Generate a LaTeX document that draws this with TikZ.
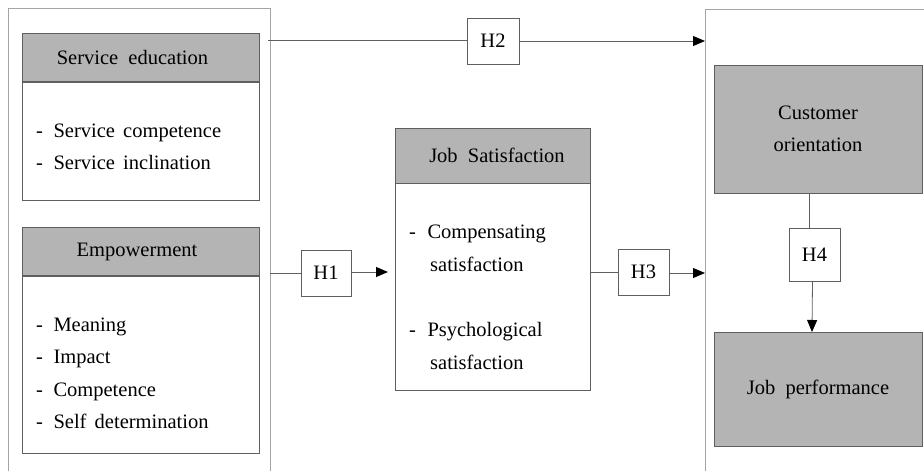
\documentclass[tikz,border=0pt]{standalone}
\usepackage{fontspec}
\setmainfont{Liberation Serif}[WordSpace=1.6]
\usetikzlibrary{arrows.meta}
\definecolor{boxgray}{RGB}{180,180,180}
\definecolor{edgecol}{RGB}{95,95,95}
\definecolor{outercol}{RGB}{165,165,165}
\definecolor{conncol}{RGB}{95,95,95}
\begin{document}
\begin{tikzpicture}[x=1pt,y=-1pt,
  font=\fontsize{20.5}{32.5}\selectfont,
  hdr/.style={draw=edgecol, fill=boxgray, line width=0.8pt, minimum width=237pt, minimum height=48pt, inner sep=0pt, outer sep=0pt},
  bodybox/.style={draw=edgecol, fill=white, line width=0.8pt, minimum width=237pt, inner sep=0pt, outer sep=0pt},
  hbox/.style={draw=edgecol, fill=white, line width=0.8pt, minimum width=51pt, minimum height=46pt, inner sep=0pt, outer sep=0pt},
  lbl/.style={inner sep=0pt, align=left, anchor=west},
  outerline/.style={draw=outercol, line width=0.9pt},
  conn/.style={draw=conncol, line width=0.8pt},
  arr/.style={conn, -{Triangle[length=12pt,width=10pt,color=black]}}
]
\useasboundingbox (0,0) rectangle (924,471);
% outer frames
\draw[outerline] (8,471) -- (8,8) -- (270,8) -- (270,471);
\draw[outerline] (924,9) -- (705,9) -- (705,471);
% left column
\node[hdr] (SEh) at (140.5,57) {Service\hspace{2pt} education\hspace*{16pt}};
\node[bodybox, minimum height=118pt] (SEb) at (140.5,141) {};
\node[lbl] (SEl) at (36,147) {-\hspace{10.5pt}Service competence\\-\hspace{10.5pt}Service inclination};
\node[hdr] (EMh) at (140.5,251.5) {Empowerment\hspace*{7pt}};
\node[bodybox, minimum height=177pt] (EMb) at (140.5,364.5) {};
\node[lbl] (EMl) at (36,373.5) {-\hspace{10.5pt}Meaning\\-\hspace{10.5pt}Impact\\-\hspace{10.5pt}Competence\\-\hspace{10.5pt}Self determination};
% middle column
\node[hdr, minimum width=195pt, minimum height=55pt] (JSh) at (492.5,155.5) {\hspace*{9pt}Job\hspace{2pt} Satisfaction};
\node[bodybox, minimum width=195pt, minimum height=207pt] (JSb) at (492.5,286.5) {};
\node[lbl] (JS1) at (409,248.5) {-\hspace{11.5pt}Compensating\\\hspace{21pt}satisfaction};
\node[lbl] (JS2) at (409,346) {-\hspace{11.5pt}Psychological\\\hspace{21pt}satisfaction};
% right column
\node[hdr, minimum width=208pt, minimum height=128pt, align=center] (CO) at (818,129) {Customer\\orientation};
\node[hdr, minimum width=208pt, minimum height=114pt] (JP) at (818,389) {Job\hspace{2pt} performance};
% hypothesis boxes
\node[hbox, minimum width=52pt] (H2) at (493,41) {H2};
\node[hbox, minimum width=50pt] (H1) at (326,273) {H1};
\node[hbox] (H3) at (643.5,272) {H3};
\node[hbox, minimum height=53pt] (H4) at (814.5,254.5) {H4};
% connector end points
\coordinate (h2s) at (268,40);
\coordinate (h2e) at (705,41);
\coordinate (h1s) at (270,273);
\coordinate (h1e) at (388,272);
\coordinate (h3e) at (705,273);
% connectors
\draw[conn] (h2s) -- (H2.west |- h2s);
\draw[arr] (H2.east |- h2e) -- (h2e);
\draw[conn] (h1s) -- (H1.west |- h1s);
\draw[arr] (H1.east |- h1e) -- (h1e);
\draw[conn] (JSb.east |- H3) -- (H3.west);
\draw[arr] (H3.east |- h3e) -- (h3e);
\draw[conn] ([xshift=-8.5pt]CO.south) -- ([xshift=-5pt]H4.north);
\draw[arr] ([xshift=-2pt]H4.south) -- ([xshift=-6pt]JP.north);
\end{tikzpicture}
\end{document}
